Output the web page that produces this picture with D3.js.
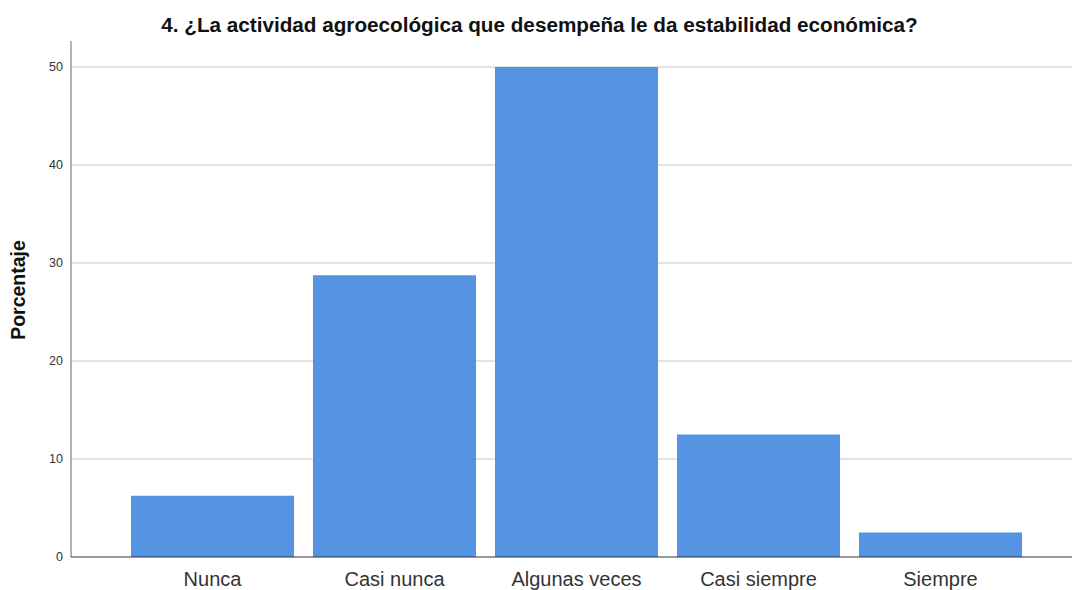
<!DOCTYPE html>
<html><head><meta charset="utf-8">
<script src="https://cdn.jsdelivr.net/npm/d3@7"></script>
<style>body{margin:0;background:#fff;}svg{display:block;}</style>
</head><body>
<svg id="c" width="1072" height="590"></svg>
<script>
const categories = ["Nunca", "Casi nunca", "Algunas veces", "Casi siempre", "Siempre"];
const values = [6.25, 28.75, 50, 12.5, 2.5];
const yTicks = [0, 10, 20, 30, 40, 50];
const title = "4. ¿La actividad agroecológica que desempeña le da estabilidad económica?";
const yLabel = "Porcentaje";

const svg = d3.select("#c");
const x0 = 71, x1 = 1072, yBase = 557, yTopAxis = 41;
const x = d3.scaleBand().domain(categories).range([121.5, 1031.5]).paddingInner(0.104).paddingOuter(0.052);
const y = d3.scaleLinear().domain([0, 50]).range([yBase, 67]);
const font = "Arial, 'Liberation Sans', sans-serif";

// gridlines
svg.append("g").selectAll("line").data(yTicks.filter(d => d > 0)).join("line")
  .attr("x1", x0).attr("x2", x1).attr("y1", d => y(d)).attr("y2", d => y(d))
  .attr("stroke", "#c8c8c8").attr("stroke-width", 1.2);

// bars
svg.append("g").selectAll("rect").data(values).join("rect")
  .attr("x", (d, i) => x(categories[i])).attr("width", x.bandwidth())
  .attr("y", d => y(d)).attr("height", d => yBase - y(d))
  .attr("fill", "#5594e3");

// y axis line
svg.append("line").attr("x1", x0).attr("x2", x0).attr("y1", yTopAxis).attr("y2", yBase)
  .attr("stroke", "#9a9a9a").attr("stroke-width", 1.5);
// x axis line
svg.append("line").attr("x1", x0).attr("x2", x1).attr("y1", yBase).attr("y2", yBase)
  .attr("stroke", "#333").attr("stroke-width", 1.2);

// y tick labels
svg.append("g").selectAll("text").data(yTicks).join("text")
  .attr("x", 63).attr("y", d => y(d)).attr("dy", "0.35em")
  .attr("text-anchor", "end").attr("font-family", font)
  .attr("font-size", 12.5).attr("fill", "#333").text(d => d);

// x labels
svg.append("g").selectAll("text").data(categories).join("text")
  .attr("x", d => x(d) + x.bandwidth() / 2).attr("y", 586)
  .attr("text-anchor", "middle").attr("font-family", font)
  .attr("font-size", 20).attr("fill", "#333").text(d => d);

// title
svg.append("text").attr("x", 539.5).attr("y", 32).attr("text-anchor", "middle")
  .attr("font-family", font).attr("font-weight", "bold")
  .attr("font-size", 20.7).attr("fill", "#111").text(title);

// y label
svg.append("text").attr("transform", "translate(25,290) rotate(-90)").attr("text-anchor", "middle")
  .attr("font-family", font).attr("font-weight", "bold")
  .attr("font-size", 19.5).attr("fill", "#111").text(yLabel);
</script>
</body></html>
